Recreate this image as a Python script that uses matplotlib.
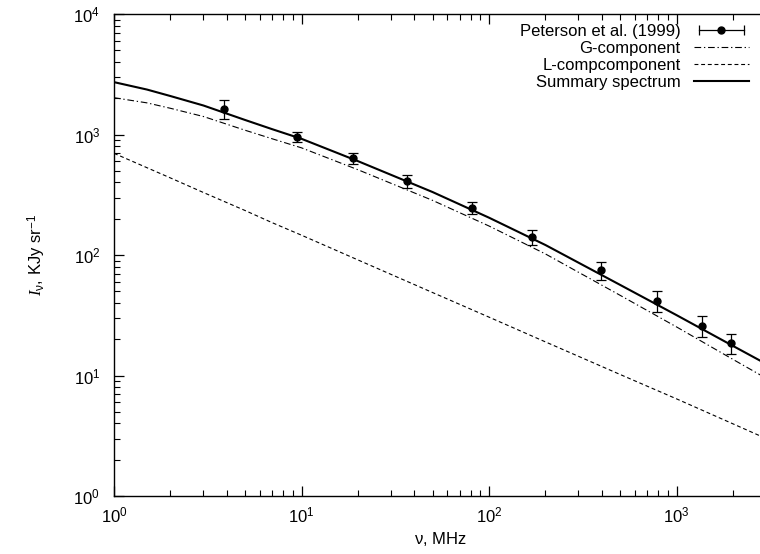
import matplotlib
matplotlib.use('Agg')
import matplotlib.pyplot as plt
from matplotlib.lines import Line2D
from matplotlib.legend_handler import HandlerLine2D, HandlerTuple
from matplotlib.ticker import LogLocator

plt.rcParams['font.family'] = ['Liberation Sans', 'DejaVu Sans']
plt.rcParams['mathtext.fontset'] = 'custom'
plt.rcParams['mathtext.rm'] = 'Liberation Sans'
plt.rcParams['mathtext.it'] = 'Liberation Serif:italic'

# Peterson et al. (1999) measurements
freq = [3.85, 9.5, 18.9, 36.4, 81.6, 169.5, 395, 787, 1373, 1945]
flux = [1628, 959, 634, 411, 247, 140, 75, 41.8, 25.9, 18.5]
flux_err = [290, 100, 65, 50, 28, 20, 13, 8, 5.2, 3.4]

# model curves
nu = [1, 1.5, 2, 3, 5, 7, 10, 20, 50, 100, 200, 500, 1000, 2000, 3000]
g_comp = [2020, 1830, 1650, 1410, 1085, 920, 775, 510, 284, 174, 102, 46.3, 25.3, 13.6, 9.5]
l_comp = [698, 530, 436, 330, 234, 185, 146, 91, 48.8, 30.5, 19, 10.2, 6.4, 3.97, 3.0]
summary = [2720, 2360, 2085, 1740, 1320, 1105, 921, 601, 333, 204, 121, 56.5, 31.7, 17.6, 12.5]

fig = plt.figure(figsize=(7.6, 5.54), dpi=100)
ax = fig.add_axes([114/760, 58/554, 652/760, 482/554])

ax.plot(nu, g_comp, color='black', lw=0.8, dashes=(6, 2.5, 1.2, 2.5))
ax.plot(nu, l_comp, color='black', lw=0.8, dashes=(3.5, 2.5))
ax.plot(nu, summary, color='black', lw=1.5)
ax.errorbar(freq, flux, yerr=flux_err, fmt='o', color='black', ms=5,
            elinewidth=0.9, capsize=3.5, capthick=0.9)

ax.set_xscale('log')
ax.set_yscale('log')
ax.set_xlim(1, 3000)
ax.set_ylim(1, 1e4)
ax.xaxis.set_major_locator(LogLocator(base=10, numticks=10))
ax.yaxis.set_major_locator(LogLocator(base=10, numticks=10))
ax.xaxis.set_minor_locator(LogLocator(base=10, subs=range(2, 10), numticks=20))
ax.yaxis.set_minor_locator(LogLocator(base=10, subs=range(2, 10), numticks=20))
ax.tick_params(which='both', direction='in', top=True, right=False, labelsize=12)
ax.tick_params(which='major', length=7, width=0.9)
ax.tick_params(which='minor', length=4, width=0.8)
ax.tick_params(axis='x', pad=7)
ax.tick_params(axis='y', pad=10)
for s in ax.spines.values():
    s.set_linewidth(1.0)

ax.set_xlabel(r'$\mathrm{\nu}$, MHz', fontsize=12, labelpad=3)
ax.set_ylabel(r'$I_{\mathrm{\nu}}$, KJy sr$^{\mathdefault{-1}}$', fontsize=12, labelpad=18)

# legend handle like a horizontal error bar with a dot
caps = Line2D([], [], color='black', lw=0.9, marker='|', ms=7, mew=0.9)
dot = Line2D([], [], color='black', ls='none', marker='o', ms=5)
h_g = Line2D([], [], color='black', lw=0.8, dashes=(6, 2.5, 1.2, 2.5))
h_l = Line2D([], [], color='black', lw=0.8, dashes=(3.5, 2.5))
h_s = Line2D([], [], color='black', lw=1.5)
ax.legend([(caps, dot), h_g, h_l, h_s],
          ['Peterson et al. (1999)', 'G-component', 'L-compcomponent', 'Summary spectrum'],
          handler_map={caps: HandlerLine2D(numpoints=2), dot: HandlerLine2D(numpoints=1),
                       tuple: HandlerTuple(ndivide=1)},
          loc='upper right', bbox_to_anchor=((749 - 114)/652, 1 - 10/482), frameon=False,
          markerfirst=False, fontsize=12, handlelength=3.3, handletextpad=0.8,
          labelspacing=0.12, borderaxespad=0, borderpad=0)

fig.savefig('out.png', dpi=100)
